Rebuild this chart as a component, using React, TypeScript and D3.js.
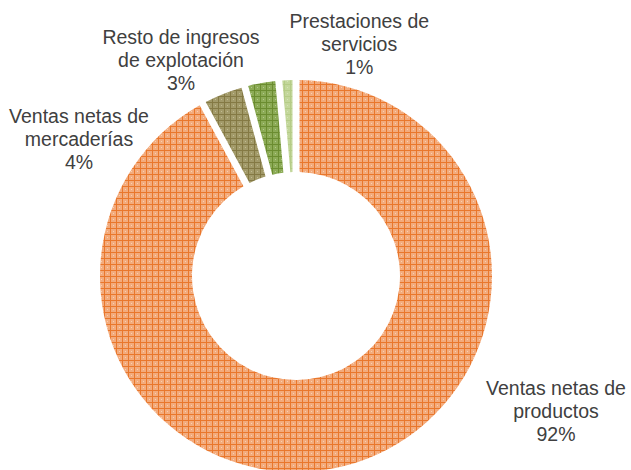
import React from "react";
import * as d3 from "d3";

// ---- data ----
const categories = [
  "Ventas netas de productos",
  "Ventas netas de mercaderías",
  "Resto de ingresos de explotación",
  "Prestaciones de servicios",
];
const values = [92.1, 3.7, 2.8, 1.4];
const labelLines = [
  ["Ventas netas de", "productos"],
  ["Ventas netas de", "mercaderías"],
  ["Resto de ingresos", "de explotación"],
  ["Prestaciones de", "servicios"],
];

// ---- styles / layout ----
const W = 631;
const H = 470;
const CX = 296;
const CY = 276;
const R_OUT = 196;
const R_IN = 104;
const GAP = 7;
const FONT = 19.5;
const LINE_H = 23;
const labelAnchors = [
  [556, 395],
  [79, 122.7],
  [181, 44.3],
  [359.3, 27.7],
];
const patternStyles = [
  { bg: "#f3ab7c", line: "#e9772c", dot: "#f9cfb2" },
  { bg: "#a29a69", line: "#847944", dot: "#c2bb93" },
  { bg: "#8cab56", line: "#6b8c30", dot: "#b3c88d" },
  { bg: "#c3d79b", line: "#b5cc87", dot: "#d6e4ba" },
];

export default function App() {
  const pie = d3
    .pie<number>()
    .sort(null)
    .value((d) => d)
    .startAngle(0)
    .endAngle(2 * Math.PI);
  const arcs = pie(values);
  const arc = d3
    .arc<d3.PieArcDatum<number>>()
    .innerRadius(R_IN)
    .outerRadius(R_OUT)
    .padAngle(GAP / R_OUT)
    .padRadius(R_OUT);

  return (
    <div style={{ position: "fixed", left: 0, top: 0, width: W, height: H, background: "#fff" }}>
      <svg width={W} height={H} style={{ display: "block" }}>
        <defs>
          {patternStyles.map((p, i) => (
            <pattern key={i} id={`pat${i}`} width={6} height={6} patternUnits="userSpaceOnUse">
              <rect width={6} height={6} fill={p.bg} />
              <rect x={0} y={0} width={6} height={1} fill={p.line} />
              <rect x={0} y={0} width={1} height={6} fill={p.line} />
              <rect x={3} y={3} width={1} height={1} fill={p.dot} />
            </pattern>
          ))}
        </defs>
        <g transform={`translate(${CX},${CY})`}>
          {arcs.map((a, i) => (
            <path key={i} d={arc(a) || ""} fill={`url(#pat${i})`} />
          ))}
        </g>
        <g
          fontFamily="'Liberation Sans', Arial, sans-serif"
          fontSize={FONT}
          fill="#404040"
          textAnchor="middle"
        >
          {categories.map((c, i) => {
            const [x, y] = labelAnchors[i];
            const lines = [...labelLines[i], `${Math.round(values[i])}%`];
            return (
              <text key={c} x={x} y={y}>
                {lines.map((l, j) => (
                  <tspan key={j} x={x} y={y + j * LINE_H}>
                    {l}
                  </tspan>
                ))}
              </text>
            );
          })}
        </g>
      </svg>
    </div>
  );
}
